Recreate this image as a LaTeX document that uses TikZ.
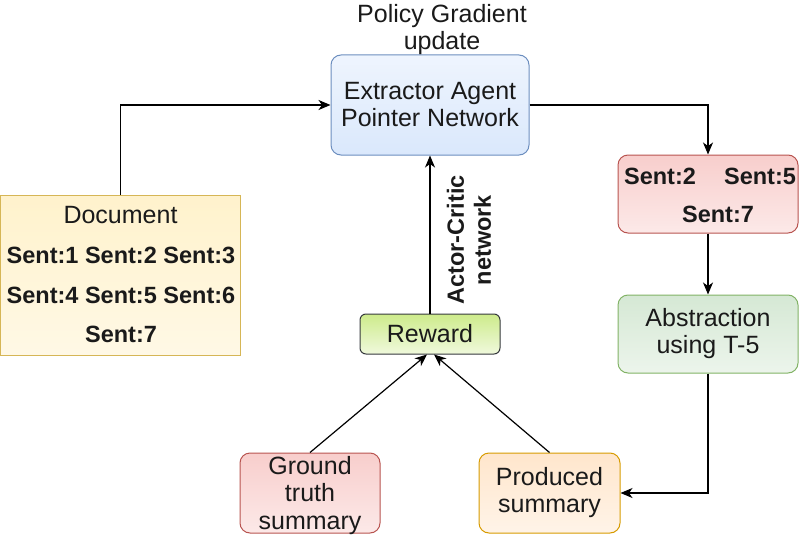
\documentclass[tikz,border=0pt]{standalone}
\usepackage{fontspec}
\setmainfont{Liberation Sans}
\usetikzlibrary{arrows.meta}
\definecolor{ylwF}{HTML}{FFF2CC}
\definecolor{ylwD}{HTML}{D6B656}
\definecolor{bluF}{HTML}{DAE8FC}
\definecolor{bluD}{HTML}{6C8EBF}
\definecolor{redF}{HTML}{F8CECC}
\definecolor{redD}{HTML}{B85450}
\definecolor{grnF}{HTML}{D5E8D4}
\definecolor{grnD}{HTML}{82B366}
\definecolor{limF}{HTML}{CDEB8B}
\definecolor{limD}{HTML}{36393D}
\definecolor{orgF}{HTML}{FFE6CC}
\definecolor{orgD}{HTML}{D79B00}
\definecolor{txt}{HTML}{1A1A1A}
\begin{document}
\begin{tikzpicture}[x=1pt,y=-1pt,
  every node/.style={text=txt},
  rtext/.style={font=\fontsize{25}{27}\selectfont, align=center},
  btext/.style={font=\bfseries\fontsize{23.5}{27}\selectfont, align=center},
  boxbase/.style={draw, line width=1pt, inner sep=0pt, rounded corners=10pt},
  arr/.style={-{Stealth[length=12pt,width=10pt,inset=3.5pt]}, line width=1.2pt, black}]
\useasboundingbox (0,0) rectangle (800,535);

% boxes
\node[boxbase, rounded corners=0pt, draw=ylwD, top color=ylwF, bottom color=ylwF!50!white,
  minimum width=240pt, minimum height=160pt] (doc) at (120.5,275) {};
\node[boxbase, draw=bluD, top color=bluF!45!white, bottom color=bluF,
  minimum width=198pt, minimum height=100pt, rtext] (ext) at (430,105)
  {Extractor Agent\\Pointer Network};
\node[boxbase, draw=redD, top color=redF, bottom color=redF!45!white,
  minimum width=180pt, minimum height=78pt] (sel) at (708,194) {};
\node[boxbase, draw=grnD, top color=grnF, bottom color=grnF!45!white,
  minimum width=180pt, minimum height=78pt, rtext] (abs) at (708,334)
  {Abstraction\\using T-5};
\node[boxbase, rounded corners=6pt, draw=limD, top color=limF, bottom color=limF!30!white,
  minimum width=140pt, minimum height=40pt, rtext] (rew) at (430,334) {Reward};
\node[boxbase, draw=redD, top color=redF, bottom color=redF!45!white,
  minimum width=140pt, minimum height=80pt] (gt) at (310,493) {};
\node[rtext, font=\fontsize{25}{27.5}\selectfont] (gtt) at (310,495.5) {Ground\\truth\\summary};
\node[boxbase, draw=orgD, top color=orgF, bottom color=orgF!45!white,
  minimum width=141pt, minimum height=80pt, rtext] (prod) at (549.5,493)
  {Produced\\summary};

% document text
\node[rtext] (docT) at (120.5,215) {Document};
\node[btext] (doc1) at (121,255) {Sent:1 Sent:2 Sent:3};
\node[btext] (doc2) at (121,295) {Sent:4 Sent:5 Sent:6};
\node[btext] (doc3) at (121,334) {Sent:7};

% selected sentences text
\node[btext] (s2) at (660,176) {Sent:2};
\node[btext] (s5) at (760,176) {Sent:5};
\node[btext] (s7) at (718,214) {Sent:7};

% labels
\node[rtext] (pg) at (442,29.5) {Policy Gradient\\update};
\node[btext, rotate=90] (ac) at (469,240) {Actor-Critic\\network};

% connectors
\draw[arr] (doc.north) |- (ext.west);
\draw[arr] (ext.east) -| (sel.north);
\draw[arr] (sel.south) -- (abs.north);
\draw[arr] (abs.south) |- (prod.east);
\draw[arr] (rew.north) -- (ext.south);
\draw[arr] (gt.north) -- ([xshift=-3pt]rew.south);
\draw[arr] (prod.north) -- ([xshift=4pt]rew.south);
\end{tikzpicture}
\end{document}
